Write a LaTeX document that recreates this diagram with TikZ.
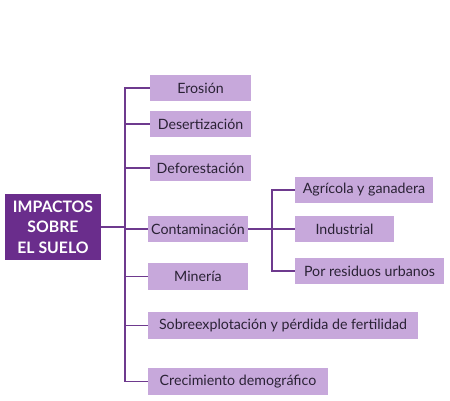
\documentclass[tikz,border=0pt]{standalone}
\usepackage{fontspec}
\setmainfont{Lato}
\definecolor{darkp}{HTML}{6A2D8C}
\definecolor{lightp}{HTML}{C7A8DB}
\definecolor{linep}{HTML}{6E3A8E}
\definecolor{txt}{HTML}{2A2235}
\begin{document}
\begin{tikzpicture}[x=1pt,y=-1pt,
  lbox/.style={fill=lightp,minimum height=26pt,inner sep=0pt,text=txt,font=\fontsize{14.2}{16}\selectfont},
  mbox/.style={fill=darkp,minimum width=96pt,minimum height=66pt,inner sep=0pt,text=white,align=center,font=\bfseries\fontsize{15.8}{20.5}\selectfont},
  conn/.style={draw=linep,line width=1.4pt}]
\useasboundingbox (0,0) rectangle (450,400);
\node[mbox] (main) at (53,227) {IMPACTOS\\SOBRE\\EL SUELO};
\node[lbox,minimum width=101pt] (ero) at (200.5,88) {Erosión};
\node[lbox,minimum width=101pt] (des) at (200.5,124) {Desertización};
\node[lbox,minimum width=101pt] (def) at (200.5,168) {Deforestación};
\node[lbox,minimum width=100pt] (con) at (198,229) {Contaminación};
\node[lbox,minimum width=100pt,minimum height=27pt] (min) at (198,276.5) {Minería};
\node[lbox,minimum width=270pt,minimum height=27pt] (sob) at (283,325.5) {Sobreexplotación y pérdida de fertilidad};
\node[lbox,minimum width=180pt,minimum height=27pt] (cre) at (238,381.5) {Crecimiento demográfico};
\node[lbox,minimum width=138pt] (agr) at (364,190) {Agrícola y ganadera};
\node[lbox,minimum width=99pt] (ind) at (344.5,229) {Industrial};
\node[lbox,minimum width=149pt] (por) at (369.5,271) {Por residuos urbanos};
\coordinate (tr) at (125,0);
\coordinate (sr) at (272,0);
\draw[conn] (ero.west) -- (ero.west -| tr) -- (cre.west -| tr) -- (cre.west);
\draw[conn] (des.west) -- (des.west -| tr);
\draw[conn] (def.west) -- (def.west -| tr);
\draw[conn] (con.west) -- (con.west -| tr);
\draw[conn] (min.west) -- (min.west -| tr);
\draw[conn] (sob.west) -- (sob.west -| tr);
\draw[conn] (main.east) -- (main.east -| tr);
\draw[conn] (agr.west) -- (agr.west -| sr) -- (por.west -| sr) -- (por.west);
\draw[conn] (con.east) -- (ind.west);
\end{tikzpicture}
\end{document}
